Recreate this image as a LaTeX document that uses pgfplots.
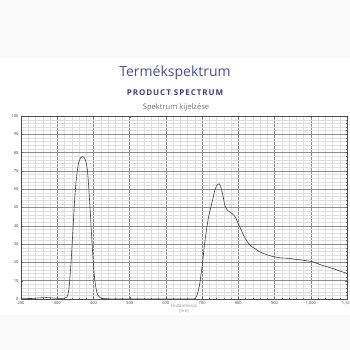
\documentclass[border=0pt]{standalone}
\usepackage{fontspec}
\setmainfont{Open Sans}
\usepackage{pgfplots}
\pgfplotsset{compat=1.18}
\definecolor{titleblue}{HTML}{4B4BAE}
\definecolor{subblue}{HTML}{3C3C9A}
\begin{document}
\begin{tikzpicture}
\useasboundingbox (0pt,0pt) rectangle (350pt,350pt);
\fill[white] (0pt,0pt) rectangle (350pt,350pt);
\fill[black!2] (0pt,292pt) rectangle (350pt,350pt);
\fill[black!2] (0pt,0pt) rectangle (350pt,35pt);
\node[text=titleblue,font=\fontsize{14}{16}\selectfont] at (175pt,277pt) {Termékspektrum};
\node[text=subblue,font=\fontsize{8}{9}\selectfont\bfseries\addfontfeature{LetterSpace=12}] at (175pt,257pt) {PRODUCT SPECTRUM};
\node[text=black!55,font=\fontsize{7.6}{9}\selectfont] at (176pt,242pt) {Spektrum kijelzése};
\begin{axis}[
  at={(21pt,51pt)}, anchor=south west,
  scale only axis, width=326pt, height=183pt,
  xmin=200, xmax=1100, ymin=0, ymax=100,
  xtick={200,300,...,1100}, ytick={0,10,...,100},
  minor x tick num=4, minor y tick num=4,
  grid=both,
  major grid style={black!45,line width=0.45pt},
  minor grid style={black!13,line width=0.3pt},
  axis line style={black!70,line width=0.6pt},
  tick style={black!60,line width=0.3pt},
  major tick length=2pt, minor tick length=1.2pt,
  tick align=inside,
  tick label style={font=\fontsize{4}{5}\selectfont,text=black!75},
  xticklabel style={yshift=1pt},
  yticklabel style={xshift=1pt},
  /pgf/number format/assume math mode=true,
  clip=true,
]
\addplot[black!75,line width=0.6pt,smooth,tension=0.5] coordinates {
(200,0.2)(230,0.3)(250,0.6)(270,0.8)(290,0.5)(310,0.3)(320,0.4)(327,1)(332,5)(336,14)(340,26)(344,40)(348,54)(352,64)(356,71)(360,75)(365,77.3)(370,77.8)(375,77.2)(380,74.5)(384,69)(388,58)(392,45)(396,31)(400,19)(404,10)(408,5)(412,2.2)(418,0.8)(425,0.3)(440,0.1)(500,0)(600,0)(670,0)(680,0.2)(685,1.5)(690,5)(694,9)(700,18)(708,32)(717,44)(724,50)(730,55)(736,60)(742,62.5)(747,63)(752,61)(758,56)(763,51)(770,48.5)(777,47.5)(784,46.5)(791,45)(798,42)(805,39)(814,35)(824,31.5)(835,29)(846,27.5)(857,26)(868,25)(890,23.5)(915,22.5)(940,22.2)(962,21.6)(985,21)(1004,20.4)(1015,19.6)(1026,18.8)(1045,17.6)(1062,16.6)(1080,15.3)(1100,14)
};
\end{axis}
\node[text=black!45,font=\fontsize{4.3}{5.3}\selectfont,align=center,anchor=north] at (184pt,49.5pt) {Hullámhossz\\[0.3pt](nm)};
\end{tikzpicture}
\end{document}
